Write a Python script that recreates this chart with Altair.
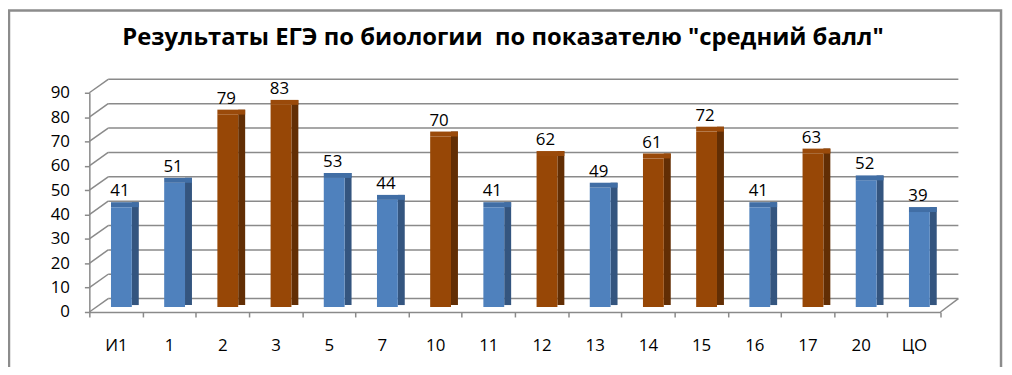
import altair as alt
import pandas as pd

# ---- data ----
categories = ["И1", "1", "2", "3", "5", "7", "10", "11", "12", "13", "14", "15", "16", "17", "20", "ЦО"]
scores = [41, 51, 79, 83, 53, 44, 70, 41, 62, 49, 61, 72, 41, 63, 52, 39]
groups = ["b", "b", "o", "o", "b", "b", "o", "b", "o", "b", "o", "o", "b", "o", "b", "b"]
y_ticks = [0, 10, 20, 30, 40, 50, 60, 70, 80, 90]
title_text = 'Результаты ЕГЭ по биологии \u00a0по показателю "средний балл"'

df = pd.DataFrame({"cat": categories, "score": scores, "grp": groups})
ticks_df = pd.DataFrame({"t": y_ticks})

FONT = "Open Sans"
GRID = "#8a8a8a"
W, H = 858, 221

y_scale = alt.Scale(domain=[0, 90], nice=False, zero=True)
y_axis = alt.Axis(title=None, values=y_ticks, grid=False, tickSize=5,
                  labelPadding=15, labelFontSize=17, labelFont=FONT,
                  labelColor="#000000", domainColor=GRID, tickColor=GRID,
                  domainWidth=1.5, tickWidth=1.5, labelOverlap=False)

x_enc = alt.X("cat:N", sort=categories,
              scale=alt.Scale(paddingInner=0, paddingOuter=0),
              axis=alt.Axis(title=None, labelAngle=0, tickBand="extent", tickSize=5,
                            labelPadding=21, labelFontSize=17, labelFont=FONT,
                            labelColor="#000000", domainColor=GRID, tickColor=GRID,
                            domainWidth=1.5, tickWidth=1.5, labelOverlap=False))
y_enc = alt.Y("score:Q", scale=y_scale, axis=y_axis)

def face_color(rng):
    return alt.Color("grp:N", scale=alt.Scale(domain=["b", "o"], range=rng), legend=None)

base = alt.Chart(df)

# back wall gridlines
grid = alt.Chart(ticks_df).mark_rule(color=GRID, strokeWidth=1.5, yOffset=-13.5, y2Offset=-13.5).encode(
    y=alt.Y("t:Q", scale=y_scale, axis=y_axis),
    x=alt.value(19), x2=alt.value(876))
# left wall diagonals
diag = alt.Chart(ticks_df).mark_rule(color=GRID, strokeWidth=1.5, y2Offset=-13.5).encode(
    y=alt.Y("t:Q", scale=y_scale, axis=y_axis), y2=alt.Y2("t"), x=alt.value(0), x2=alt.value(19))
# right floor diagonal
floor_r = alt.Chart(ticks_df).transform_filter("datum.t == 0").mark_rule(
    color=GRID, strokeWidth=1.5, y2Offset=-13.5).encode(
    y=alt.Y("t:Q", scale=y_scale, axis=y_axis), y2=alt.Y2("t"), x=alt.value(W), x2=alt.value(W + 18))

side = base.mark_bar(size=7, xOffset=19.5, yOffset=-10, y2Offset=-7).encode(
    x=x_enc, y=y_enc, y2=alt.datum(0), color=face_color(["#34557f", "#622e04"]))
front = base.mark_bar(size=21, xOffset=5.5, yOffset=-5, y2Offset=-5).encode(
    x=x_enc, y=y_enc, y2=alt.datum(0), color=face_color(["#4f81bd", "#974706"]))
top = base.mark_bar(size=28, xOffset=9, yOffset=-10, y2Offset=-5).encode(
    x=x_enc, y=y_enc, y2=alt.Y2("score"), color=face_color(["#416ea5", "#9a4a0a"]))

labels = base.mark_text(font=FONT, fontSize=17, color="#000000", dx=4, dy=-16,
                        baseline="alphabetic", align="center").encode(
    x=x_enc, y=y_enc, text=alt.Text("score:Q"))

title = alt.Chart(pd.DataFrame({"t": [title_text]})).mark_text(
    font=FONT, fontSize=24, fontWeight="bold", color="#000000",
    align="center", baseline="alphabetic").encode(
    x=alt.value(417), y=alt.value(-48), text="t:N")

border = alt.Chart(pd.DataFrame({"t": [0]})).mark_rect(
    fillOpacity=0, stroke="#8c8c8c", strokeWidth=2.5).encode(
    x=alt.value(-81), x2=alt.value(919), y=alt.value(-83), y2=alt.value(280))

chart = alt.layer(grid, diag, floor_r, side, front, top, labels, title, border).resolve_scale(
    color="independent").properties(
    width=W, height=H,
    padding={"left": 82, "top": 84, "right": 64, "bottom": 54},
    autosize=alt.AutoSizeParams(type="none"),
    background="white",
).configure_view(stroke=None)

chart.save("out.html", embed_options={"renderer": "svg", "actions": False})
